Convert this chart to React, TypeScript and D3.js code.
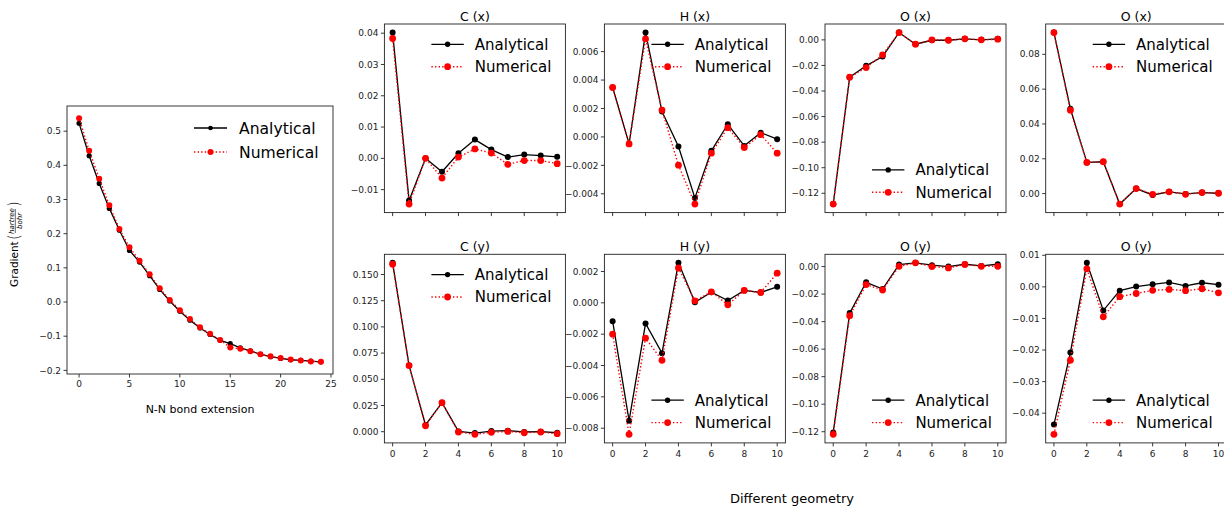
import React from 'react';
import * as d3 from 'd3';

const width = 1224;
const height = 506;
const font = 'DejaVu Sans, Verdana, sans-serif';
const black = '#000000';
const red = '#ff0000';
const ink = '#222222';

// N-N bond extension panel
const nnSteps = [0, 1, 2, 3, 4, 5, 6, 7, 8, 9, 10, 11, 12, 13, 14, 15, 16, 17, 18, 19, 20, 21, 22, 23, 24];
const nnAnalytical = [0.523, 0.428, 0.347, 0.274, 0.21, 0.151, 0.117, 0.077, 0.037, 0.003, -0.027, -0.053, -0.076,
  -0.095, -0.112, -0.122, -0.134, -0.143, -0.153, -0.16, -0.165, -0.169, -0.171, -0.173, -0.175];
const nnNumerical = [0.538, 0.443, 0.361, 0.283, 0.214, 0.16, 0.121, 0.081, 0.04, 0.006, -0.024, -0.05, -0.074,
  -0.093, -0.111, -0.133, -0.137, -0.144, -0.153, -0.159, -0.164, -0.168, -0.171, -0.174, -0.175];
const nnXTicks = [0, 5, 10, 15, 20, 25];
const nnYTicks = [-0.2, -0.1, 0, 0.1, 0.2, 0.3, 0.4, 0.5];

// different geometries
const geometries = [0, 1, 2, 3, 4, 5, 6, 7, 8, 9, 10];
const geomTicks = [0, 2, 4, 6, 8, 10];

const cxAnalytical = [0.0402, -0.0135, 0.0, -0.0043, 0.0016, 0.006, 0.0028, 0.0004, 0.0012, 0.0009, 0.0005];
const cxNumerical = [0.0383, -0.0146, 0.0, -0.0063, 0.0004, 0.003, 0.0017, -0.0019, -0.0007, -0.0007, -0.0017];
const cxTicks = [-0.01, 0, 0.01, 0.02, 0.03, 0.04];

const hxAnalytical = [0.00348, -0.00049, 0.00734, 0.00178, -0.00068, -0.0043, -0.00098, 0.00089, -0.00063, 0.0003, -0.00016];
const hxNumerical = [0.00348, -0.00049, 0.00689, 0.00189, -0.00199, -0.00472, -0.00114, 0.00065, -0.00075, 0.00016, -0.00114];
const hxTicks = [-0.004, -0.002, 0, 0.002, 0.004, 0.006];

const oxAnalytical = [-0.1284, -0.0292, -0.0203, -0.013, 0.0057, -0.0034, -0.0003, -0.0003, 0.0008, 0.0, 0.0008];
const oxNumerical = [-0.1284, -0.0292, -0.0217, -0.0117, 0.0057, -0.0034, 0.0, -0.0003, 0.0008, 0.0, 0.0005];
const oxTicks = [-0.12, -0.1, -0.08, -0.06, -0.04, -0.02, 0];

const ox2Analytical = [0.0925, 0.0488, 0.0179, 0.0183, -0.006, 0.0029, -0.0008, 0.001, -0.0002, 0.0006, 0.0002];
const ox2Numerical = [0.0925, 0.0479, 0.0179, 0.0183, -0.006, 0.0029, -0.0004, 0.001, -0.0004, 0.0006, 0.0002];
const ox2Ticks = [0, 0.02, 0.04, 0.06, 0.08];

const cyAnalytical = [0.1611, 0.0631, 0.0064, 0.0277, 0.0003, -0.0013, 0.0006, 0.001, -0.0003, 0.0, -0.001];
const cyNumerical = [0.1599, 0.0631, 0.0057, 0.0277, -0.0003, -0.0025, -0.0006, 0.0003, -0.001, -0.0003, -0.0019];
const cyTicks = [0, 0.025, 0.05, 0.075, 0.1, 0.125, 0.15];

const hyAnalytical = [-0.00117, -0.00752, -0.00132, -0.00321, 0.00255, 0.00004, 0.00068, 0.00015, 0.00079, 0.00066, 0.00102];
const hyNumerical = [-0.002, -0.00839, -0.00225, -0.00367, 0.00223, 0.00013, 0.0007, -0.00013, 0.00079, 0.00066, 0.00189];
const hyTicks = [-0.008, -0.006, -0.004, -0.002, 0, 0.002];

const oyAnalytical = [-0.1205, -0.0338, -0.0114, -0.0163, 0.0015, 0.0027, 0.001, 0.0, 0.0017, 0.0005, 0.0017];
const oyNumerical = [-0.1219, -0.0357, -0.0131, -0.017, 0.0002, 0.0027, 0.0, -0.001, 0.0015, 0.0002, 0.0002];
const oyTicks = [-0.12, -0.1, -0.08, -0.06, -0.04, -0.02, 0];

const oy2Analytical = [-0.0436, -0.0208, 0.0076, -0.0075, -0.0012, 0.0001, 0.0008, 0.0014, 0.0003, 0.0013, 0.0007];
const oy2Numerical = [-0.0467, -0.0232, 0.0057, -0.0095, -0.0031, -0.0021, -0.0011, -0.0008, -0.0012, -0.0006, -0.0019];
const oy2Ticks = [-0.04, -0.03, -0.02, -0.01, 0, 0.01];

const titles = ['C (x)', 'H (x)', 'O (x)', 'O (x)', 'C (y)', 'H (y)', 'O (y)', 'O (y)'];

const colLefts = [384.4, 604.4, 825, 1045.7];
const rowTops = [24, 254.3];
const cellW = 181;
const cellH = 188.6;

const subplots = [
  { a: cxAnalytical, n: cxNumerical, ticks: cxTicks, digits: 2, legend: 'upper' },
  { a: hxAnalytical, n: hxNumerical, ticks: hxTicks, digits: 3, legend: 'upper' },
  { a: oxAnalytical, n: oxNumerical, ticks: oxTicks, digits: 2, legend: 'lower' },
  { a: ox2Analytical, n: ox2Numerical, ticks: ox2Ticks, digits: 2, legend: 'upper' },
  { a: cyAnalytical, n: cyNumerical, ticks: cyTicks, digits: 3, legend: 'upper' },
  { a: hyAnalytical, n: hyNumerical, ticks: hyTicks, digits: 3, legend: 'lower' },
  { a: oyAnalytical, n: oyNumerical, ticks: oyTicks, digits: 2, legend: 'lower' },
  { a: oy2Analytical, n: oy2Numerical, ticks: oy2Ticks, digits: 2, legend: 'lower' },
].map((s, i) => ({
  ...s,
  title: titles[i],
  box: { x: colLefts[i % 4], y: rowTops[Math.floor(i / 4)], w: cellW, h: cellH },
  xLabels: i >= 4,
}));

type Box = { x: number; y: number; w: number; h: number };

type PanelProps = {
  box: Box;
  xs: number[];
  xDomain: [number, number];
  xTicks: number[];
  xLabels: boolean;
  xLabelDy: number;
  yTicks: number[];
  digits: number;
  a: number[];
  n: number[];
  title?: string;
  legend: string;
  legendFont: number;
  legendX: [number, number, number];
  legendY: [number, number];
  rA: number;
  rN: number;
};

function Panel(p: PanelProps) {
  const { box } = p;
  const x = d3.scaleLinear().domain(p.xDomain).range([box.x, box.x + box.w]);
  const [lo, hi] = d3.extent([...p.a, ...p.n]) as [number, number];
  const pad = (hi - lo) * 0.05;
  const y = d3.scaleLinear().domain([lo - pad, hi + pad]).range([box.y + box.h, box.y]);
  const line = d3.line<number>().x((_, i) => x(p.xs[i])).y((d) => y(d));
  const fmt = d3.format(`.${p.digits}f`);
  const right = box.x + box.w;
  const bottom = box.y + box.h;
  const ly = p.legend === 'upper'
    ? [box.y + p.legendY[0], box.y + p.legendY[1]]
    : [bottom - p.legendY[1], bottom - p.legendY[0]];
  const [l0, l1, tx] = p.legendX.map((d) => right - d);

  return (
    <g>
      {p.title && (
        <text x={box.x + box.w / 2} y={box.y - 3.5} textAnchor="middle" fontSize={12.5} fill={black}>
          {p.title}
        </text>
      )}
      {p.yTicks.map((t) => (
        <g key={t}>
          <line x1={box.x - 3.5} x2={box.x} y1={y(t)} y2={y(t)} stroke={ink} strokeWidth={0.9} />
          <text x={box.x - 6} y={y(t)} dy="0.35em" textAnchor="end" fontSize={9} fill={ink}>
            {fmt(t)}
          </text>
        </g>
      ))}
      {p.xTicks.map((t) => (
        <g key={t}>
          <line x1={x(t)} x2={x(t)} y1={bottom} y2={bottom + 3.5} stroke={ink} strokeWidth={0.9} />
          {p.xLabels && (
            <text x={x(t)} y={bottom + p.xLabelDy} textAnchor="middle" fontSize={9} fill={ink}>
              {t}
            </text>
          )}
        </g>
      ))}
      <path d={line(p.a) ?? ''} fill="none" stroke={black} strokeWidth={1.3} />
      {p.a.map((d, i) => (
        <circle key={`a${i}`} cx={x(p.xs[i])} cy={y(d)} r={p.rA} fill={black} />
      ))}
      <path d={line(p.n) ?? ''} fill="none" stroke={red} strokeWidth={1.4} strokeDasharray="1.4,2.2" />
      {p.n.map((d, i) => (
        <circle key={`n${i}`} cx={x(p.xs[i])} cy={y(d)} r={p.rN} fill={red} />
      ))}
      <rect x={box.x} y={box.y} width={box.w} height={box.h} fill="none" stroke={ink} strokeWidth={0.9} />
      <g fontSize={p.legendFont} fill={black}>
        <line x1={l0} x2={l1} y1={ly[0]} y2={ly[0]} stroke={black} strokeWidth={1.3} />
        <circle cx={(l0 + l1) / 2} cy={ly[0]} r={p.rA * 0.9} fill={black} />
        <text x={tx} y={ly[0]} dy="0.36em">Analytical</text>
        <line x1={l0} x2={l1} y1={ly[1]} y2={ly[1]} stroke={red} strokeWidth={1.4} strokeDasharray="1.4,2.2" />
        <circle cx={(l0 + l1) / 2} cy={ly[1]} r={p.rN} fill={red} />
        <text x={tx} y={ly[1]} dy="0.36em">Numerical</text>
      </g>
    </g>
  );
}

export default function App() {
  const nnBox = { x: 67, y: 106, w: 266, h: 268 };
  return (
    <svg width={width} height={height} fontFamily={font} style={{ display: 'block', position: 'absolute', left: 0, top: 0 }}>
      <rect width={width} height={height} fill="#ffffff" />
      <Panel
        box={nnBox}
        xs={nnSteps}
        xDomain={[-1.2, 25.2]}
        xTicks={nnXTicks}
        xLabels
        xLabelDy={12.5}
        yTicks={nnYTicks}
        digits={1}
        a={nnAnalytical}
        n={nnNumerical}
        legend="upper"
        legendFont={15.6}
        legendX={[139, 106, 94]}
        legendY={[22, 46]}
        rA={2.6}
        rN={3}
      />
      <text x={nnBox.x + nnBox.w / 2} y={413} textAnchor="middle" fontSize={11} fill={black}>
        N-N bond extension
      </text>
      <g transform="translate(13.5,240) rotate(-90)" fill={black}>
        <text x={-47} y={4} fontSize={10.5}>Gradient</text>
        <text x={0} y={5} fontSize={15} fontWeight={300}>(</text>
        <text x={19} y={0} fontSize={7} fontStyle="italic" textAnchor="middle">hartree</text>
        <line x1={7} x2={31} y1={1.8} y2={1.8} stroke={black} strokeWidth={0.6} />
        <text x={19} y={8.5} fontSize={7} fontStyle="italic" textAnchor="middle">bohr</text>
        <text x={33} y={5} fontSize={15} fontWeight={300}>)</text>
      </g>
      {subplots.map((s, i) => (
        <Panel
          key={i}
          box={s.box}
          xs={geometries}
          xDomain={[-0.5, 10.5]}
          xTicks={geomTicks}
          xLabels={s.xLabels}
          xLabelDy={14}
          yTicks={s.ticks}
          digits={s.digits}
          a={s.a}
          n={s.n}
          title={s.title}
          legend={s.legend}
          legendFont={15}
          legendX={[134, 101.6, 90.6]}
          legendY={[20.3, 42.7]}
          rA={3}
          rN={3.4}
        />
      ))}
      <text x={792} y={503} textAnchor="middle" fontSize={13} fill={black}>
        Different geometry
      </text>
    </svg>
  );
}
